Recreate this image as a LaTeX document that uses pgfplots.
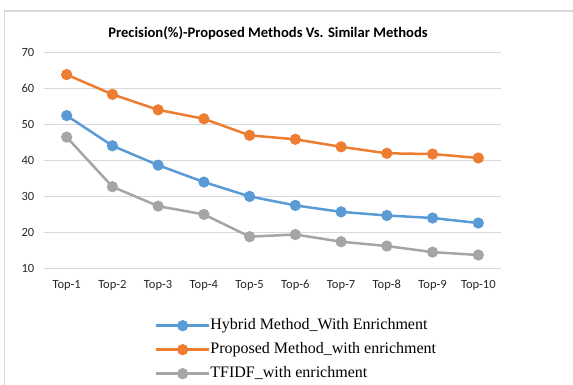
\documentclass[border=0pt]{standalone}
\usepackage{fontspec}
\setmainfont{Liberation Serif}
\newfontfamily\calibri{Carlito}
\usepackage{pgfplots}
\pgfplotsset{compat=1.18}

\definecolor{cblue}{HTML}{5B9BD5}
\definecolor{corange}{HTML}{ED7D31}
\definecolor{cgray}{HTML}{A5A5A5}
\definecolor{cgrid}{HTML}{D9D9D9}

\begin{document}
\begin{tikzpicture}
\begin{axis}[
  at={(43.8pt,116.7pt)}, anchor=south west,
  scale only axis, width=457.4pt, height=215.6pt,
  xmin=-0.5, xmax=9.5, ymin=10, ymax=70,
  xtick={0,...,9},
  xticklabels={Top-1,Top-2,Top-3,Top-4,Top-5,Top-6,Top-7,Top-8,Top-9,Top-10},
  ytick={10,20,...,70},
  axis line style={draw=none},
  major tick length=0pt,
  ymajorgrids, grid style={cgrid, line width=1.2pt},
  /pgf/number format/assume math mode=true,
  ticklabel style={font=\calibri\fontsize{12.5}{14}\selectfont, text=black!85},
  xticklabel style={yshift=-8pt, text height=9pt, text depth=3pt},
  yticklabel style={xshift=-6pt},
  every axis plot/.append style={line width=2.5pt, mark=*, mark size=4.3pt},
  legend style={draw=none, fill=none, at={(0.236,-0.2234)}, anchor=north west,
    font=\fontsize{16}{18}\selectfont, row sep=10pt,
    nodes={inner sep=0pt, text height=11pt, text depth=3pt}},
  legend cell align=left,
  legend image code/.code={
    \draw[#1, mark repeat=2, mark phase=2] plot coordinates {(0pt,0pt) (26.5pt,0pt) (53pt,0pt)};
  },
]
\addplot[cblue, mark options={fill=cblue}] coordinates {
  (0,52.5) (1,44.1) (2,38.7) (3,34.0) (4,30.0) (5,27.5) (6,25.7) (7,24.7) (8,24.0) (9,22.6)};
\addlegendentry{Hybrid Method\_With Enrichment}
\addplot[corange, mark options={fill=corange}] coordinates {
  (0,63.9) (1,58.4) (2,54.1) (3,51.6) (4,47.0) (5,45.9) (6,43.8) (7,42.0) (8,41.8) (9,40.7)};
\addlegendentry{Proposed Method\_with enrichment}
\addplot[cgray, mark options={fill=cgray}] coordinates {
  (0,46.5) (1,32.7) (2,27.3) (3,25.0) (4,18.8) (5,19.4) (6,17.4) (7,16.2) (8,14.5) (9,13.7)};
\addlegendentry{TFIDF\_with enrichment}
\end{axis}
% chart area frame (left and top edges)
\draw[cgrid, line width=1.5pt] (4.5pt,0pt) -- (4.5pt,374pt) -- (573pt,374pt);
% title
\node[font=\calibri\bfseries\fontsize{14.6}{17}\selectfont] at (268pt,352pt)
  {Precision(\%)-Proposed Methods Vs. Similar Methods};
\pgfresetboundingbox
\useasboundingbox (0pt,0pt) rectangle (573pt,385pt);
\end{tikzpicture}
\end{document}
